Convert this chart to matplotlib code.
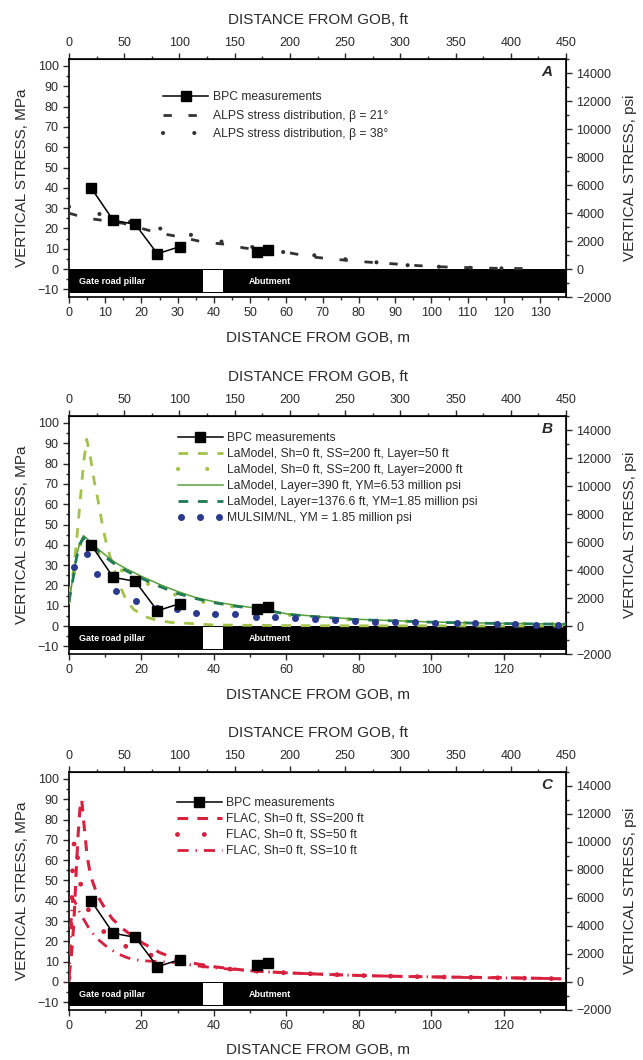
import numpy as np
import matplotlib
matplotlib.use('Agg')
import matplotlib.pyplot as plt
from matplotlib.patches import Rectangle
from matplotlib.ticker import MultipleLocator
from matplotlib.legend_handler import HandlerLine2D

plt.rcParams['font.family'] = ['Liberation Sans', 'DejaVu Sans']

MPA_TO_PSI = 145.038
FT_PER_M = 1 / 0.3048
X_MAX = 450 / FT_PER_M

# measured pillar stress (BPC), gap between the two groups
bpc_x = [6.1, 12.2, 18.3, 24.4, 30.5, np.nan, 51.8, 54.9]
bpc_y = [40, 24, 22, 7.5, 11, np.nan, 8.5, 9.5]

# panel A - ALPS
alps21_x = [0, 3, 6.7, 10, 15, 20, 24.6, 30.6, 37, 42.5, 48.6, 55, 61, 67.3, 72.9, 78.4, 84, 90, 96, 102, 108, 114, 120, 126]
alps21_y = [27.5, 26, 24.6, 23.8, 22.5, 20, 17.8, 15.8, 13.3, 12.3, 10.3, 9, 7.9, 5.9, 4.9, 4.0, 3.2, 2.5, 1.7, 1.1, 0.8, 0.5, 0.3, 0.2]
alps38_x = [0, 8.6, 17, 25.8, 34.8, 43.3, 52, 60.4, 69.7, 78, 86.7, 95.7, 104, 112.5, 121, 126]
alps38_y = [30.7, 27, 23, 19.7, 16.4, 13, 10.4, 8, 6.4, 4.4, 3, 1.5, 1, 0.5, 0.3, 0.2]

# panel B - LaModel / MULSIM
lam50_x = [0, 1, 2, 3, 4, 4.9, 6, 7, 8, 9, 10, 12, 14, 16, 18, 21, 24, 28, 34, 40, 60, 80, 100, 120, 137]
lam50_y = [15, 24, 40, 60, 80, 92, 82, 71, 62, 52, 43, 30, 20, 12, 8, 4.6, 3, 1.8, 1.2, 0.5, 0.2, 0.1, 0.1, 0, 0]
lam_x = [0, 1, 2, 3, 4, 5, 6, 8, 10, 13, 16, 20, 25, 30, 35, 40, 45, 50, 55, 60, 70, 80, 90, 100, 110, 120, 130, 137]
lam2000_y = [12, 22, 33, 40, 43.5, 42, 39.5, 36, 33, 29, 26, 22, 18.5, 15, 12.5, 11, 9.7, 8.7, 7.4, 5.6, 4.2, 3, 2.4, 1.9, 1.5, 1.2, 1, 0.9]
lam390_y = [12, 23, 34, 41, 44.5, 43, 41, 38, 35, 31, 28, 24.5, 20.5, 17, 14, 12, 10.5, 9.2, 8, 6, 4.5, 3.3, 2.6, 2, 1.6, 1.3, 1.1, 1]
lam1376_y = [12, 22, 33, 40, 43.5, 42, 40, 37, 34, 30, 27, 23.5, 19.5, 16, 13.5, 11.5, 10, 8.8, 7.6, 5.8, 4.3, 3.1, 2.5, 1.9, 1.5, 1.2, 1, 0.9]
mulsim_x = [1.4, 4.9, 7.6, 13, 18.5, 24.2, 29.7, 35, 40.3, 45.8, 51.6, 56.8, 62.4, 67.9, 73.4, 78.9, 84.5, 90, 95.5, 101, 107, 112, 118, 123, 129, 135]
mulsim_y = [29, 35.3, 25.5, 17.3, 12.3, 9, 8.5, 6.5, 5.7, 5.7, 4.6, 4.6, 4.1, 3.3, 2.9, 2.5, 2.2, 2.0, 1.8, 1.7, 1.5, 1.4, 1.0, 0.9, 0.7, 0.6]

# panel C - FLAC
flac200_x = [0, 0.5, 1, 1.5, 2, 2.5, 3, 3.5, 4, 5, 6, 8, 10, 12, 15, 18, 20, 25, 30, 35, 40, 50, 60, 70, 80, 90, 100, 110, 120, 130, 137]
flac200_y = [3, 10, 20, 35, 55, 72, 85, 90, 80, 62, 52, 42, 36, 31, 26, 22, 19.5, 14.5, 11, 9, 7.5, 5.5, 4.5, 3.8, 3.2, 2.8, 2.5, 2.3, 2.1, 1.8, 1.5]
flac50_x = [0, 0.5, 1, 1.5, 2, 2.5, 3, 4, 5, 6, 8, 10, 12, 15, 18, 20, 25, 30, 35, 40, 50, 60, 70, 80, 90, 100, 110, 120, 130, 137]
flac50_y = [2, 25, 55, 71, 70, 58, 50, 42, 37, 33, 28, 24, 21, 18, 16, 14.5, 12, 10, 8.5, 7, 5.5, 4.5, 3.8, 3.2, 2.8, 2.5, 2.3, 2, 1.8, 1.5]
flac10_x = [0, 0.3, 0.6, 1, 1.5, 2, 3, 4, 5, 6, 8, 10, 12, 14, 16, 18, 20, 25, 30, 35, 40, 50, 60, 70, 80, 90, 100, 110, 120, 130, 137]
flac10_y = [0, 15, 30, 41, 40, 38, 34, 31, 28, 25, 21, 18, 15.5, 13.5, 12, 11, 10.5, 10, 9.5, 8, 7, 5.5, 4.5, 3.8, 3.2, 2.8, 2.5, 2.2, 2, 1.8, 1.5]

TXT = '#2a2a2a'


def setup_panel(ax, letter, xstep):
    ax.set_xlim(0, X_MAX)
    ax.set_ylim(-2000 / MPA_TO_PSI, 15000 / MPA_TO_PSI)
    # pillar / abutment bar
    ax.add_patch(Rectangle((0, -12), X_MAX, 12, fc='black', ec='none', zorder=1))
    ax.add_patch(Rectangle((37, -11.3), 5.5, 10.8, fc='white', ec='none', zorder=1.1))
    ax.text(2.7, -6, 'Gate road pillar', color='white', fontsize=6.5, fontweight='bold', va='center', zorder=1.2)
    ax.text(49.5, -6, 'Abutment', color='white', fontsize=6.5, fontweight='bold', va='center', zorder=1.2)
    ax.text(0.962, 0.945, letter, transform=ax.transAxes, ha='center', va='center',
            fontsize=11, fontweight='bold', fontstyle='italic', color=TXT)

    ax.set_yticks(np.arange(-10, 101, 10))
    ax.yaxis.set_minor_locator(MultipleLocator(5))
    ax.xaxis.set_major_locator(MultipleLocator(xstep))
    ax.xaxis.set_minor_locator(MultipleLocator(xstep / 2))
    ax.tick_params(which='both', direction='out', width=1, colors=TXT, labelsize=9)
    ax.tick_params(which='major', length=4)
    ax.tick_params(which='minor', length=2.5)
    for s in ax.spines.values():
        s.set_linewidth(1.2)

    top = ax.secondary_xaxis('top', functions=(lambda m: m * FT_PER_M, lambda f: f / FT_PER_M))
    top.set_xticks(np.arange(0, 451, 50))
    top.xaxis.set_minor_locator(MultipleLocator(25))
    top.tick_params(which='both', direction='out', width=1, colors=TXT, labelsize=9)
    top.tick_params(which='major', length=4)
    top.tick_params(which='minor', length=2.5)
    top.set_xlabel('DISTANCE FROM GOB, ft', fontsize=11, color=TXT, labelpad=9)

    right = ax.secondary_yaxis('right', functions=(lambda p: p * MPA_TO_PSI, lambda q: q / MPA_TO_PSI))
    right.set_yticks(np.arange(-2000, 14001, 2000))
    right.yaxis.set_minor_locator(MultipleLocator(1000))
    right.tick_params(which='both', direction='out', width=1, colors=TXT, labelsize=9)
    right.tick_params(which='major', length=4)
    right.tick_params(which='minor', length=2.5)
    right.set_ylabel('VERTICAL STRESS, psi', fontsize=11, color=TXT, labelpad=8)

    ax.set_xlabel('DISTANCE FROM GOB, m', fontsize=11, color=TXT, labelpad=8)
    ax.set_ylabel('VERTICAL STRESS, MPa', fontsize=11, color=TXT, labelpad=6)


def plot_bpc(ax):
    line, = ax.plot(bpc_x, bpc_y, color='black', lw=1.1, marker='s', ms=7.5,
                    mfc='black', mec='black', label='BPC measurements', zorder=5)
    return line


def add_legend(ax, anchor, spacing, handler_map=None):
    ax.legend(loc='upper left', bbox_to_anchor=anchor, frameon=False, fontsize=8.7,
              handlelength=3.7, handletextpad=0.4, labelspacing=spacing,
              borderpad=0, borderaxespad=0, labelcolor=TXT, handler_map=handler_map)


fig = plt.figure(figsize=(6.43, 10.6), dpi=100)
left, width, height = 0.1073, 0.773, 0.2245
axA = fig.add_axes([left, 0.7198, width, height])
axB = fig.add_axes([left, 0.3830, width, height])
axC = fig.add_axes([left, 0.0472, width, height])

# ---- A
setup_panel(axA, 'A', 10)
plot_bpc(axA)
axA.plot(alps21_x, alps21_y, color='#333333', lw=2, ls=(0, (3, 6)),
         label='ALPS stress distribution, β = 21°', zorder=3)
axA.plot(alps38_x, alps38_y, color='#333333', lw=3, ls=(0, (0.01, 7.5)), dash_capstyle='round',
         label='ALPS stress distribution, β = 38°', zorder=3)
add_legend(axA, (0.19, 0.865), 0.55)

# ---- B
setup_panel(axB, 'B', 20)
plot_bpc(axB)
axB.plot(lam50_x, lam50_y, color='#a3c24a', lw=2, ls=(0, (3.5, 3.5)),
         label='LaModel, Sh=0 ft, SS=200 ft, Layer=50 ft', zorder=3)
axB.plot(lam_x, lam2000_y, color='#a3c24a', lw=3, ls=(0, (0.01, 7)), dash_capstyle='round',
         label='LaModel, Sh=0 ft, SS=200 ft, Layer=2000 ft', zorder=3)
axB.plot(lam_x, lam390_y, color='#5aa03a', lw=1.1,
         label='LaModel, Layer=390 ft, YM=6.53 million psi', zorder=3)
axB.plot(lam_x, lam1376_y, color='#1f7a55', lw=2, ls=(0, (3.5, 3.5)),
         label='LaModel, Layer=1376.6 ft, YM=1.85 million psi', zorder=3)
mul, = axB.plot(mulsim_x, mulsim_y, color='#2b3a8f', ls='none', marker='o', ms=4,
                label='MULSIM/NL, YM = 1.85 million psi', zorder=3)
add_legend(axB, (0.219, 0.932), 0.33, {mul: HandlerLine2D(numpoints=3)})

# ---- C
setup_panel(axC, 'C', 20)
plot_bpc(axC)
axC.plot(flac200_x, flac200_y, color='#d8203f', lw=2.2, ls=(0, (3.5, 3)),
         label='FLAC, Sh=0 ft, SS=200 ft', zorder=3)
axC.plot(flac50_x, flac50_y, color='#d8203f', lw=3.5, ls=(0, (0.01, 5.5)), dash_capstyle='round',
         label='FLAC, Sh=0 ft, SS=50 ft', zorder=3)
axC.plot(flac10_x, flac10_y, color='#d8203f', lw=2, ls=(0, (4, 2.5, 0.5, 2.5)),
         label='FLAC, Sh=0 ft, SS=10 ft', zorder=3)
add_legend(axC, (0.217, 0.895), 0.33)

fig.savefig('out.png', dpi=100)
